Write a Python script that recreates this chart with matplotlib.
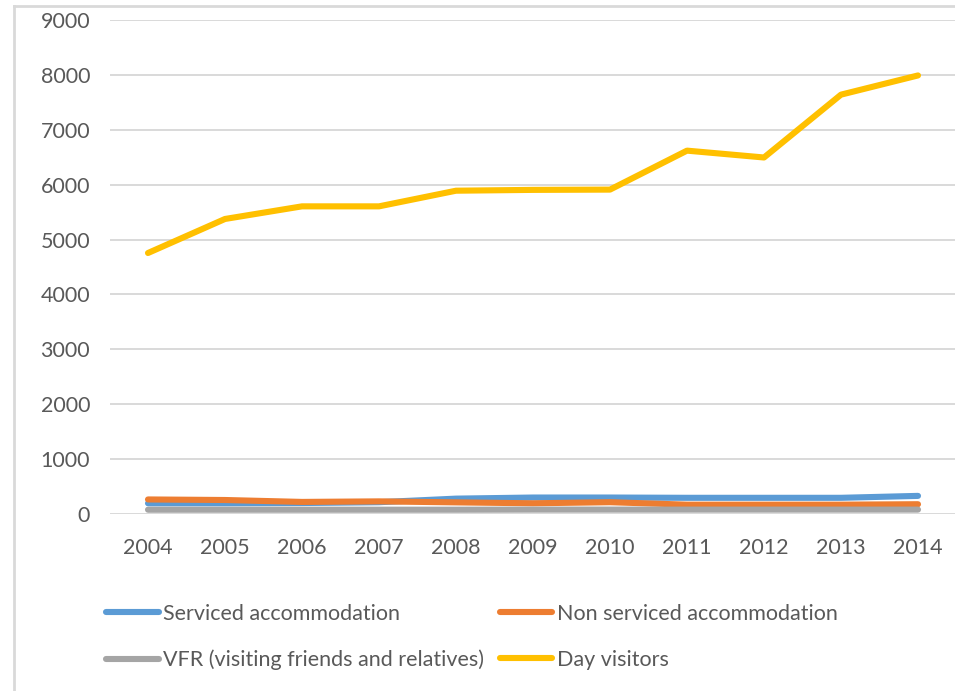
import matplotlib
matplotlib.use("Agg")
import matplotlib.pyplot as plt
from matplotlib.lines import Line2D

plt.rcParams['font.family'] = ['Lato', 'DejaVu Sans']

# Data
years = ["2004", "2005", "2006", "2007", "2008", "2009", "2010", "2011", "2012", "2013", "2014"]
serviced = [195, 195, 200, 215, 280, 300, 300, 295, 295, 295, 330]
non_serviced = [265, 255, 220, 230, 212, 195, 215, 170, 170, 170, 178]
vfr = [78, 78, 78, 78, 78, 80, 80, 80, 80, 80, 80]
day_visitors = [4755, 5375, 5605, 5605, 5890, 5905, 5910, 6620, 6495, 7640, 7990]
yticks = [0, 1000, 2000, 3000, 4000, 5000, 6000, 7000, 8000, 9000]

series = [
    ("Serviced accommodation", serviced, "#5B9BD5"),
    ("Non serviced accommodation", non_serviced, "#ED7D31"),
    ("VFR (visiting friends and relatives)", vfr, "#A5A5A5"),
    ("Day visitors", day_visitors, "#FFC000"),
]

W, H = 955, 691
FS = 15.5
fig = plt.figure(figsize=(W / 100, H / 100), dpi=100)
ax = fig.add_axes([109.5 / W, (H - 514) / H, (956.5 - 109.5) / W, (514 - 20) / H])

x = list(range(len(years)))
handles = []
for label, vals, color in series:
    line, = ax.plot(x, vals, color=color, lw=4.4, solid_capstyle="round",
                    solid_joinstyle="round", label=label, zorder=3)
    handles.append(line)

ax.set_xlim(-0.5, len(years) - 0.5)
ax.set_ylim(0, 9000)
ax.set_yticks(yticks)
ax.set_yticklabels([str(v) for v in yticks])
ax.set_xticks(x)
ax.set_xticklabels(years)
ax.grid(axis="y", color="#D9D9D9", lw=1.4, zorder=0)
for s in ax.spines.values():
    s.set_visible(False)
ax.tick_params(axis="both", length=0, labelsize=FS, colors="#595959")
ax.tick_params(axis="y", pad=14)
ax.tick_params(axis="x", pad=17)

# outer chart border (top and left edges visible)
fig.add_artist(Line2D([14 / W, 14 / W], [0, (H - 6) / H], color="#D9D9D9", lw=2))
fig.add_artist(Line2D([14 / W, 1], [(H - 6) / H, (H - 6) / H], color="#D9D9D9", lw=2))

# legend fills column-wise, so order handles to read row-wise like the original
order = [0, 2, 1, 3]
leg = fig.legend(handles=[handles[i] for i in order], loc="upper left",
                 bbox_to_anchor=(106 / W, (H - 604) / H),
                 ncol=2, frameon=False, fontsize=FS, handlelength=2.45, handletextpad=0.22,
                 columnspacing=0.7, labelspacing=1.2, borderpad=0, borderaxespad=0)
for t in leg.get_texts():
    t.set_color("#595959")

fig.savefig("out.png", dpi=100)
